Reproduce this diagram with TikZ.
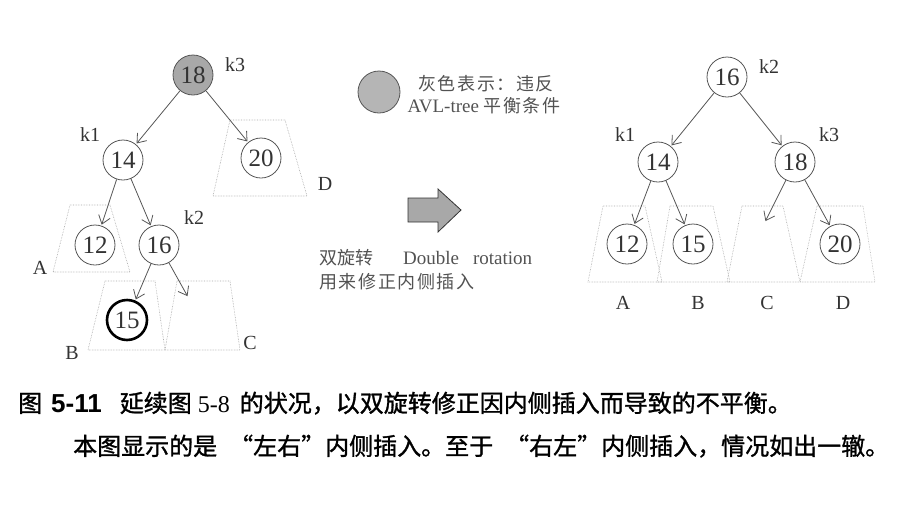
\documentclass[tikz,border=0pt]{standalone}
\usepackage{fontspec}
\setmainfont{Liberation Serif}
\newfontfamily\cjk{Noto Sans CJK SC}
\newfontfamily\cjkls[LetterSpace=9]{Noto Sans CJK SC}
\newfontfamily\cjkb[FakeBold=1.2]{Noto Sans CJK SC}
\newfontfamily\arialb{Liberation Sans}
\usetikzlibrary{arrows.meta}
\definecolor{ink}{HTML}{333333}
\definecolor{edgec}{HTML}{555555}
\definecolor{fillg}{HTML}{A8A8A8}
\begin{document}
\begin{tikzpicture}[x=1pt,y=-1pt,
  keynode/.style={circle,draw=edgec,line width=0.8pt,minimum size=40pt,inner sep=0pt,text=ink,font=\fontsize{25}{25}\selectfont},
  hotnode/.style={keynode,fill=fillg},
  newnode/.style={keynode,draw=black,line width=2.6pt},
  lab/.style={text=ink,font=\fontsize{20}{20}\selectfont,inner sep=0pt},
  edge/.style={draw=edgec,line width=0.8pt,-{Straight Barb[length=8pt,width=12pt]},shorten >=1pt},
  subtree/.style={draw=gray!70,line width=0.6pt,densely dotted},
  cjktext/.style={text=ink!85,font=\fontsize{18}{22}\selectfont,inner sep=0pt,anchor=base west},
  captext/.style={anchor=base west,inner sep=0pt,text=black,font=\fontsize{24}{28}\selectfont}
]
\useasboundingbox (0,0) rectangle (906,523);

% ---------- left tree ----------
\draw[subtree] (70,205) -- (110,205) -- (130,272) -- (53,272) -- cycle;
\draw[subtree] (230,120) -- (285,120) -- (307,196) -- (213,196) -- cycle;
\draw[subtree] (105,281) -- (155,281) -- (165,350) -- (88,350) -- cycle;
\draw[subtree] (177,281) -- (230,281) -- (240,350) -- (165,350) -- cycle;

\node[hotnode] (L18) at (193,75) {18};
\node[keynode] (L14) at (123,160) {14};
\node[keynode] (L20) at (261,158) {20};
\node[keynode] (L12) at (95,245) {12};
\node[keynode] (L16) at (159,245) {16};
\node[newnode] (L15) at (127,320) {15};
\coordinate (LC) at (188,297);

\draw[edge] (L18) -- (L14);
\draw[edge] (L18) -- (L20);
\draw[edge] (L14) -- (L12);
\draw[edge] (L14) -- (L16);
\draw[edge] (L16) -- (L15);
\draw[edge] (L16) -- (LC);

\node[lab] (lk3) at (235,65) {k3};
\node[lab] (lk1) at (90,135) {k1};
\node[lab] (lk2) at (194,218) {k2};
\node[lab] (lD) at (325,184) {D};
\node[lab] (lA) at (40,268) {A};
\node[lab] (lB) at (72,353) {B};
\node[lab] (lCl) at (250,343) {C};

% ---------- legend ----------
\node[circle,draw=edgec,line width=0.8pt,fill=fillg!85,minimum size=42pt,inner sep=0pt] (leg) at (379,92) {};
\node[cjktext,anchor=base] (leg1) at (486,90) {\cjkls 灰色表示：违反};
\node[cjktext,anchor=base] (leg2) at (484,112) {{\fontsize{19}{22}\selectfont AVL-tree} {\cjkls 平衡条件}};

% ---------- big arrow ----------
\draw[draw=ink,line width=0.8pt,fill=fillg] (408,198) -- (438,198) -- (438,189) -- (461,210) -- (438,232) -- (438,222) -- (408,222) -- cycle;

\node[cjktext] (dr1) at (319,264) {{\cjk 双旋转}\hspace{30pt}{\fontsize{19}{22}\selectfont Double\hspace{14pt}rotation}};
\node[cjktext] (dr2) at (319,288) {\cjkls 用来修正内侧插入};

% ---------- right tree ----------
\draw[subtree] (603,206) -- (645,206) -- (662,282) -- (588,282) -- cycle;
\draw[subtree] (670,206) -- (713,206) -- (730,282) -- (657,282) -- cycle;
\draw[subtree] (742,206) -- (783,206) -- (800,282) -- (727,282) -- cycle;
\draw[subtree] (817,206) -- (863,206) -- (875,282) -- (800,282) -- cycle;

\node[keynode] (R16) at (727,77) {16};
\node[keynode] (R14) at (658,162) {14};
\node[keynode] (R18) at (795,162) {18};
\node[keynode] (R12) at (627,244) {12};
\node[keynode] (R15) at (693,244) {15};
\node[keynode] (R20) at (840,244) {20};
\coordinate (RC) at (765,222);

\draw[edge] (R16) -- (R14);
\draw[edge] (R16) -- (R18);
\draw[edge] (R14) -- (R12);
\draw[edge] (R14) -- (R15);
\draw[edge] (R18) -- (RC);
\draw[edge] (R18) -- (R20);

\node[lab] (rk2) at (769,67) {k2};
\node[lab] (rk1) at (625,135) {k1};
\node[lab] (rk3) at (829,135) {k3};
\node[lab] (rA) at (623,303) {A};
\node[lab] (rB) at (698,303) {B};
\node[lab] (rC) at (767,303) {C};
\node[lab] (rD) at (843,303) {D};

% ---------- caption ----------
\node[captext] (cap1) at (18,412)
  {{\cjkb 图}\hspace{9pt}{\arialb\bfseries\fontsize{26}{28}\selectfont 5-11}\hspace{18pt}{\cjkb 延续图}\hspace{6pt}5-8\hspace{10pt}{\cjkb 的状况，以双旋转修正因内侧插入而导致的不平衡。}};
\node[captext] (cap2) at (73,455)
  {\cjkb 本图显示的是\hspace{12pt}“左右”内侧插入。至于\hspace{12pt}“右左”内侧插入，情况如出一辙。};
\end{tikzpicture}
\end{document}
